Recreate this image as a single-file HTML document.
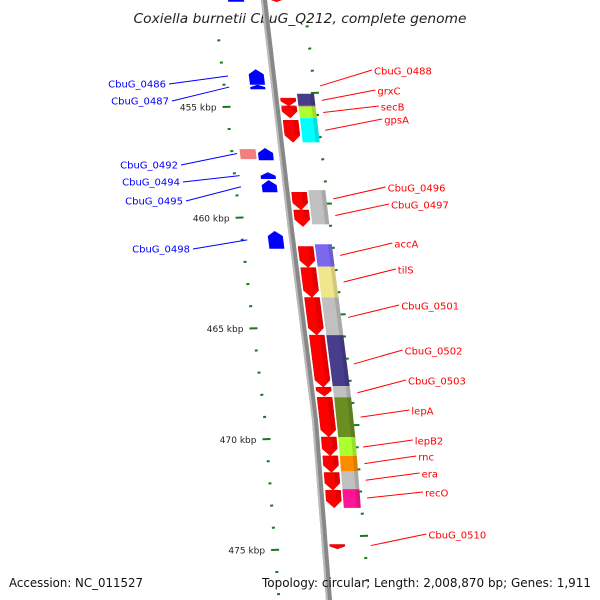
<!DOCTYPE html>
<html><head><meta charset="utf-8"><style>
html,body{margin:0;padding:0;background:#fff;}
svg{display:block;font-family:"DejaVu Sans","Liberation Sans",sans-serif;}
</style></head><body>
<svg id="map" width="600" height="600" viewBox="0 0 600 600">
<text x="300" y="23" text-anchor="middle" font-size="13" font-style="italic" fill="#222" textLength="333" lengthAdjust="spacingAndGlyphs">Coxiella burnetii CbuG_Q212, complete genome</text>
<g id="g"></g>
<text x="9" y="587" font-size="12" fill="#111" textLength="134" lengthAdjust="spacingAndGlyphs">Accession: NC_011527</text>
<text x="591" y="587" text-anchor="end" font-size="12" fill="#111" textLength="329" lengthAdjust="spacingAndGlyphs">Topology: circular; Length: 2,008,870 bp; Genes: 1,911</text>
</svg>
<script>
// data
const majorTicks = [455, 460, 465, 470, 475];
const minorStart = 452, minorEnd = 477;
const fwdStarts = [454.6, 454.95, 455.0, 455.6, 458.85, 459.65, 461.3, 462.25, 463.6, 465.3, 467.65, 468.1, 469.9, 470.75, 471.5, 472.3, 474.75, 450.05];
const fwdEnds   = [454.95,455.0, 455.5, 456.6, 459.65, 460.4, 462.25, 463.6, 465.3, 467.65, 468.05, 469.9, 470.75, 471.5, 472.3, 473.1, 474.95, 450.25];
const cogStarts = [454.4, 454.95, 455.0, 455.5, 458.75, 461.2, 462.2, 463.6, 465.3, 467.6, 468.1, 469.9, 470.75, 471.45, 472.25];
const cogEnds   = [454.95,455.0, 455.5, 456.6, 460.3, 462.2, 463.6, 465.3, 467.6, 468.1, 470.0, 470.75, 471.45, 472.25, 473.1];
const cogColors = ['#483d8b','#bdb76b','#adff2f','#00ffff','#c0c0c0','#7b68ee','#f0e68c','#c0c0c0','#483d8b','#c0c0c0','#6b8e23','#adff2f','#ff8c00','#c0c0c0','#ff1493'];
const revStarts = [453.3, 454.0, 456.9, 456.85, 457.95, 458.3, 460.6, 450.0];
const revEnds   = [454.0, 454.2, 457.35, 457.4, 458.25, 458.85, 461.4, 450.25];
const revColors = ['#0000ff','#0000ff','#f08080','#0000ff','#0000ff','#0000ff','#0000ff','#0000ff'];
const rightLabels = ['CbuG_0488','grxC','secB','gpsA','CbuG_0496','CbuG_0497','accA','tilS','CbuG_0501','CbuG_0502','CbuG_0503','lepA','lepB2','rnc','era','recO','CbuG_0510'];
const rightLabelY = [71,91,107,120,188,205,244,270,306,351,381,411,441,457,474,493,535];
const rightGeneKbp = [454.05,454.7,455.25,456.05,459.15,459.9,461.7,462.9,464.5,466.6,467.9,469.0,470.35,471.1,471.85,472.65,474.8];
const leftLabels = ['CbuG_0486','CbuG_0487','CbuG_0492','CbuG_0494','CbuG_0495','CbuG_0498'];
const leftLabelY = [84,101,165,182,201,249];
const leftLabelEnd = [166,169,178,180,183,190];
const leftGeneKbp = [453.6, 454.1, 457.1, 458.1, 458.6, 461.0];

const NS='http://www.w3.org/2000/svg';
const g=document.getElementById('g');
function ky(k){return 107+(k-455)*22.15;}
const bpY=[-20,0,230,420,600,620], bpX=[262,264,291,315,329,331];
function bx(y){for(let i=0;i<bpY.length-1;i++){if(y<=bpY[i+1]){const t=(y-bpY[i])/(bpY[i+1]-bpY[i]);return bpX[i]+t*(bpX[i+1]-bpX[i]);}}return 331;}
function mk(tag,attrs){const e=document.createElementNS(NS,tag);for(const k in attrs)e.setAttribute(k,attrs[k]);g.appendChild(e);return e;}

let d='';for(let y=-10;y<=610;y+=10){d+=(y===-10?'M':'L')+bx(y).toFixed(1)+' '+y+' ';}
let bb=mk('path',{d:d,stroke:'#888',"stroke-width":6,fill:'none'});


mk('path',{d:d,stroke:'#bbb',"stroke-width":2,fill:'none',transform:'translate(-2,0)'});

for(let k=minorStart;k<=minorEnd;k++){
  const y=ky(k);const major=majorTicks.includes(k);
  const xl=bx(y)-50;
  let t=mk('line',{x1:xl-(major?4:1.5),y1:y,x2:xl+(major?4:1.5),y2:y-0.3,stroke:'#1a7a1a',"stroke-width":2});
  
  
  const yr=y-14;const xr=bx(yr)+40;
  mk('line',{x1:xr-(major?4:1.5),y1:yr,x2:xr+(major?4:1.5),y2:yr-0.3,stroke:'#1a7a1a',"stroke-width":2});
  if(major){let l=mk('text',{x:xl-10,y:y+3.5,"text-anchor":"end","font-size":9,fill:'#222'});l.textContent=k+' kbp';
    
    }
}
function quad(y1,y2,o1,o2){return [[bx(y1)+o1,y1],[bx(y1)+o2,y1],[bx(y2)+o2,y2],[bx(y2)+o1,y2]];}
function pts(a){return a.map(p=>p[0].toFixed(1)+','+p[1].toFixed(1)).join(' ');}
fwdStarts.forEach((s,i)=>{
  const y1=ky(s),y2=ky(fwdEnds[i]);const h=y2-y1;const tip=Math.min(7,h*0.6);
  const a=5,b=20,ym=y2-tip;
  const p=[[bx(y1)+a,y1],[bx(y1)+b,y1],[bx(ym)+b,ym],[bx(y2)+(a+b)/2,y2],[bx(ym)+a,ym]];
  let e=mk('polygon',{points:pts(p),fill:'#ff0000',stroke:'#d00',"stroke-width":0.5});
  
  
  mk('polygon',{points:pts([[bx(y1)+15,y1],[bx(y1)+b,y1],[bx(ym)+b,ym],[bx(ym)+15,ym]]),fill:'#c00',opacity:0.5});
});
cogStarts.forEach((s,i)=>{
  const y1=ky(s),y2=ky(cogEnds[i]);
  let e=mk('polygon',{points:pts(quad(y1,y2,22,39)),fill:cogColors[i]});
  
  
  mk('polygon',{points:pts(quad(y1,y2,35,39)),fill:'#000',opacity:0.12});
});
revStarts.forEach((s,i)=>{
  const y1=ky(s),y2=ky(revEnds[i]);const h=y2-y1;const tip=Math.min(5,h*0.5);
  const a=-24,b=-9,ym=y1+tip;let p;
  if(revColors[i]==='#f08080'){p=quad(y1,y2,-42,-26);}
  else if(i===7){p=quad(y1,y2,-36,-20);}
  else p=[[bx(y1)+(a+b)/2,y1],[bx(ym)+b,ym],[bx(y2)+b,y2],[bx(y2)+a,y2],[bx(ym)+a,ym]];
  let e=mk('polygon',{points:pts(p),fill:revColors[i]});
  
  
});
rightLabels.forEach((n,i)=>{
  const gy=ky(rightGeneKbp[i]);const gx=bx(gy)+46;const ly=rightLabelY[i];
  const lx=374+(i*3.4);
  mk('line',{x1:gx,y1:gy,x2:lx-2,y2:ly-1,stroke:'#f00',"stroke-width":1});
  let t=mk('text',{x:lx,y:ly+3.5,"font-size":10,fill:'#f00'});t.textContent=n;
  
  
});
leftLabels.forEach((n,i)=>{
  const gy=ky(leftGeneKbp[i]);const gx=bx(gy)-45;const ly=leftLabelY[i];
  mk('line',{x1:gx,y1:gy,x2:leftLabelEnd[i]+3,y2:ly,stroke:'#00f',"stroke-width":1});
  let t=mk('text',{x:leftLabelEnd[i],y:ly+3.5,"text-anchor":"end","font-size":10,fill:'#00f'});t.textContent=n;
  
  
});
</script>
</body></html>
